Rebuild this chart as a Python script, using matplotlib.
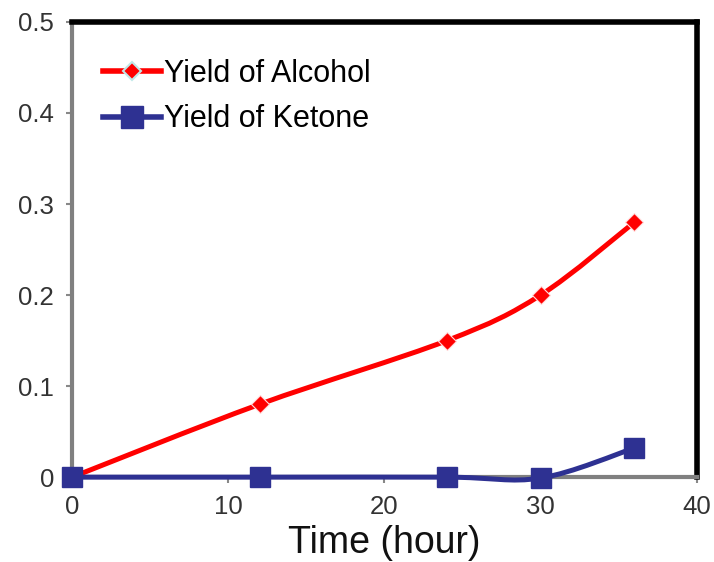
import numpy as np
import matplotlib
matplotlib.use("Agg")
import matplotlib.pyplot as plt
from matplotlib.path import Path
from matplotlib.patches import PathPatch
from matplotlib.lines import Line2D

plt.rcParams["font.family"] = ["Liberation Sans", "DejaVu Sans"]

time_h = [0, 12, 24, 30, 36]
alcohol = [0.0, 0.08, 0.15, 0.20, 0.28]
ketone = [0.0, 0.0, 0.0, -0.001, 0.032]
x_ticks = [0, 10, 20, 30, 40]
y_ticks = [0, 0.1, 0.2, 0.3, 0.4, 0.5]
y_tick_labels = ["0", "0.1", "0.2", "0.3", "0.4", "0.5"]


def smooth_path(xs, ys, t=1 / 6):
    # excel-like smoothed line: cubic bezier segments through the points
    xs = np.asarray(xs, float)
    ys = np.asarray(ys, float)
    n = len(xs)
    verts = [(xs[0], ys[0])]
    codes = [Path.MOVETO]
    for i in range(n - 1):
        p0 = i - 1 if i > 0 else i
        p3 = i + 2 if i + 2 < n else i + 1
        c1 = (xs[i] + (xs[i + 1] - xs[p0]) * t, ys[i] + (ys[i + 1] - ys[p0]) * t)
        c2 = (xs[i + 1] - (xs[p3] - xs[i]) * t, ys[i + 1] - (ys[p3] - ys[i]) * t)
        verts += [c1, c2, (xs[i + 1], ys[i + 1])]
        codes += [Path.CURVE4] * 3
    return Path(verts, codes)


red = "#ff0000"
blue = "#2e3192"

fig = plt.figure(figsize=(7.14, 5.62), dpi=100)
ax = fig.add_axes([0.101, 0.151, 0.875, 0.810])

ax.add_patch(PathPatch(smooth_path(time_h, alcohol), fill=False, edgecolor=red,
                       lw=3.6, capstyle="round", zorder=3))
ax.plot(time_h, alcohol, ls="none", marker="D", ms=9, mfc=red, mec="#ffdddd",
        mew=0.8, zorder=4, clip_on=False)

ax.add_patch(PathPatch(smooth_path(time_h, ketone), fill=False, edgecolor=blue,
                       lw=3.6, capstyle="round", zorder=3, clip_on=False))
ax.plot(time_h, ketone, ls="none", marker="s", ms=14, mfc=blue, mec=blue,
        zorder=5, clip_on=False)

ax.set_xlim(0, 40)
ax.set_ylim(0, 0.5)
ax.set_xticks(x_ticks)
ax.set_yticks(y_ticks)
ax.set_yticklabels(y_tick_labels)
ax.tick_params(axis="both", labelsize=18.5, colors="#888888", labelcolor="#333333",
               width=1.5, length=4, pad=9)
ax.set_xlabel("Time (hour)", fontsize=27, color="#111111", labelpad=4)

for s in ["left", "bottom"]:
    ax.spines[s].set_color("#808080")
    ax.spines[s].set_linewidth(3)
for s in ["top", "right"]:
    ax.spines[s].set_color("black")
    ax.spines[s].set_linewidth(4)

handles = [
    Line2D([], [], color=red, lw=4, marker="D", ms=9, mfc=red, mec="#bfe8e8", mew=1.5),
    Line2D([], [], color=blue, lw=4, marker="s", ms=16, mfc=blue, mec=blue),
]
ax.legend(handles, ["Yield of Alcohol", "Yield of Ketone"], loc="upper left",
          frameon=False, fontsize=22, handlelength=1.9, handletextpad=0.1,
          labelspacing=0.5, bbox_to_anchor=(0.03, 0.945), borderaxespad=0)

fig.savefig("out.png", dpi=100)
